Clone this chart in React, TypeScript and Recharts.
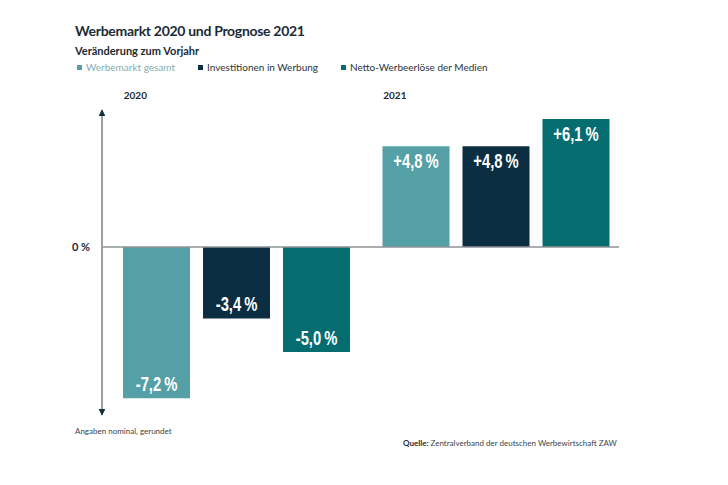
import React from "react";
import { BarChart, Bar, XAxis, YAxis, ReferenceLine, LabelList } from "recharts";

// categories (years)
const years: string[] = ["2020", "2021"];

// series values, change vs previous year in %
const werbemarktGesamt: number[] = [-7.2, 4.8];
const investitionen: number[] = [-3.4, 4.8];
const nettoErloese: number[] = [-5.0, 6.1];

const seriesKeys = ["gesamt", "invest", "netto"];
const seriesNames = ["Werbemarkt gesamt", "Investitionen in Werbung", "Netto-Werbeerlöse der Medien"];
const seriesColors = ["#55a0a6", "#0c2e43", "#056c70"];
const legendTextColors = ["#7fb0b4", "#2b3338", "#2b3338"];

const data = years.map((year, i) => ({
  year,
  gesamt: werbemarktGesamt[i],
  invest: investitionen[i],
  netto: nettoErloese[i],
}));

const uiFont = "Lato, 'Open Sans', sans-serif";
const numFont = "'Liberation Sans', Arial, sans-serif";

const fmt = (v: number) => (v > 0 ? "+" : "") + v.toFixed(1).replace(".", ",") + "\u2009%";

const ValueLabel = (props: any) => {
  const { x, y, width, height, value } = props;
  const top = Math.min(y, y + height);
  const bottom = Math.max(y, y + height);
  const ty = value > 0 ? top + 22 : bottom - 7;
  // condensed look: squeeze the glyphs horizontally
  return (
    <text
      transform={`translate(${x + width / 2},${ty}) scale(0.74,1)`}
      textAnchor="middle"
      fill="#ffffff"
      style={{ fontFamily: numFont, fontWeight: 700, fontSize: 20 }}
    >
      {fmt(value)}
    </text>
  );
};

const YearTick = (props: any) => {
  const { x, y, payload } = props;
  return (
    <text
      x={x - 112}
      y={y - 3}
      fill="#1b2b36"
      style={{ fontFamily: uiFont, fontWeight: 700, fontSize: 10 }}
    >
      {payload.value}
    </text>
  );
};

// zero line stops a bit short of the plot edge
const ZeroLine = (props: any) => {
  const { x1, y1, x2, y2 } = props;
  return <line x1={x1} y1={y1} x2={x2 - 6} y2={y2} stroke="#8e9396" strokeWidth={1.5} />;
};

export default function App() {
  return (
    <div style={{ position: "absolute", top: 0, left: 0, width: 728, height: 485, background: "#fff" }}>
      <div
        style={{
          position: "absolute",
          left: 75,
          top: 22,
          fontFamily: uiFont,
          fontWeight: 700,
          fontSize: 14,
          letterSpacing: -0.3,
          color: "#1b2b36",
          whiteSpace: "nowrap",
        }}
      >
        Werbemarkt 2020 und Prognose 2021
      </div>
      <div
        style={{
          position: "absolute",
          left: 75,
          top: 44,
          fontFamily: uiFont,
          fontWeight: 700,
          fontSize: 11,
          color: "#1b2b36",
          whiteSpace: "nowrap",
        }}
      >
        Veränderung zum Vorjahr
      </div>
      <div
        style={{
          position: "absolute",
          left: 77,
          top: 61,
          display: "flex",
          fontFamily: uiFont,
          fontSize: 10,
          whiteSpace: "nowrap",
        }}
      >
        {seriesNames.map((name, i) => (
          <div key={name} style={{ display: "flex", alignItems: "center", marginRight: 23 }}>
            <span
              style={{ display: "inline-block", width: 5, height: 5, background: seriesColors[i], marginRight: 4 }}
            />
            <span style={{ color: legendTextColors[i] }}>{name}</span>
          </div>
        ))}
      </div>

      <div style={{ position: "absolute", left: 0, top: 0 }}>
        <BarChart
          width={728}
          height={485}
          data={data}
          margin={{ top: 80, right: 103, bottom: 70, left: 0 }}
          barCategoryGap={17}
          barGap={13}
        >
          <defs>
            <marker id="arrowHead" viewBox="0 0 10 10" refX="9" refY="5" markerWidth="4" markerHeight="3.4" orient="auto-start-reverse" markerUnits="strokeWidth">
              <path d="M0,0 L10,5 L0,10 z" fill="#13303f" />
            </marker>
          </defs>
          <XAxis
            dataKey="year"
            orientation="top"
            axisLine={false}
            tickLine={false}
            padding={{ left: 4, right: 0 }}
            tick={<YearTick />}
            interval={0}
          />
          <YAxis
            width={102}
            domain={[-8, 6.524]}
            ticks={[0]}
            tickLine={false}
            tickMargin={6}
            tickFormatter={() => "0 %"}
            tick={{ fill: "#1b2b36", fontFamily: uiFont, fontWeight: 700, fontSize: 11 }}
            axisLine={{ stroke: "#9a9fa2", strokeWidth: 2, markerStart: "url(#arrowHead)", markerEnd: "url(#arrowHead)" }}
          />
          <ReferenceLine y={0} shape={<ZeroLine />} />
          {seriesKeys.map((key, i) => (
            <Bar key={key} dataKey={key} name={seriesNames[i]} fill={seriesColors[i]} isAnimationActive={false}>
              <LabelList dataKey={key} content={<ValueLabel />} />
            </Bar>
          ))}
        </BarChart>
      </div>

      <div
        style={{
          position: "absolute",
          left: 75,
          top: 426,
          fontFamily: uiFont,
          fontSize: 8,
          color: "#3a4348",
          whiteSpace: "nowrap",
        }}
      >
        Angaben nominal, gerundet
      </div>
      <div
        style={{
          position: "absolute",
          left: 403,
          top: 438,
          fontFamily: uiFont,
          fontSize: 8,
          color: "#3a4348",
          whiteSpace: "nowrap",
        }}
      >
        <b style={{ color: "#1b2b36" }}>Quelle:</b> Zentralverband der deutschen Werbewirtschaft ZAW
      </div>
    </div>
  );
}
